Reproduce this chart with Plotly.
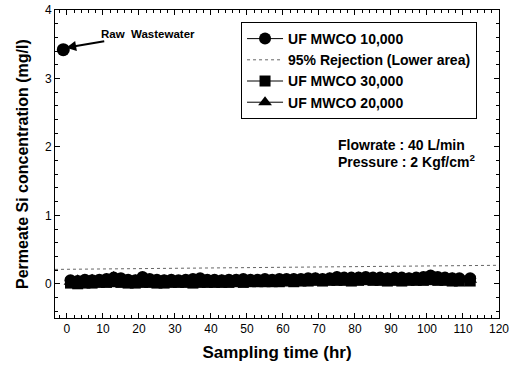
import plotly.graph_objects as go

# Sampling times (hr)
time_hr = [1, 3, 5, 7, 9, 11, 13, 15, 17, 19, 21, 23, 25, 27, 29, 31, 33, 35, 37, 39,
           41, 43, 45, 47, 49, 51, 53, 55, 57, 59, 61, 63, 65, 67, 69, 71, 73, 75, 77, 79,
           81, 83, 85, 87, 89, 91, 93, 95, 97, 99, 101, 103, 105, 107, 109, 112]

mwco_10000 = [0.05, 0.04, 0.06, 0.05, 0.06, 0.07, 0.09, 0.08, 0.06, 0.05, 0.10, 0.07, 0.06, 0.05,
              0.06, 0.05, 0.06, 0.07, 0.08, 0.06, 0.06, 0.05, 0.06, 0.06, 0.07, 0.06, 0.06, 0.07,
              0.06, 0.07, 0.07, 0.07, 0.07, 0.08, 0.08, 0.07, 0.08, 0.10, 0.09, 0.09, 0.09, 0.10,
              0.09, 0.09, 0.08, 0.09, 0.09, 0.08, 0.09, 0.10, 0.12, 0.10, 0.09, 0.08, 0.08, 0.08]

mwco_30000 = [0.01, 0.00, 0.01, 0.01, 0.02, 0.02, 0.03, 0.02, 0.01, 0.01, 0.02, 0.02, 0.01, 0.01,
              0.02, 0.02, 0.02, 0.01, 0.02, 0.02, 0.02, 0.02, 0.02, 0.03, 0.02, 0.03, 0.03, 0.03,
              0.03, 0.03, 0.04, 0.03, 0.04, 0.04, 0.05, 0.04, 0.05, 0.05, 0.05, 0.04, 0.05, 0.06,
              0.05, 0.05, 0.04, 0.05, 0.04, 0.05, 0.05, 0.05, 0.06, 0.05, 0.05, 0.04, 0.04, 0.04]

mwco_20000 = [0.03, 0.05, 0.04, 0.06, 0.05, 0.07, 0.10, 0.06, 0.04, 0.05, 0.07, 0.05, 0.04, 0.05,
              0.06, 0.04, 0.05, 0.05, 0.06, 0.04, 0.04, 0.05, 0.04, 0.06, 0.05, 0.06, 0.05, 0.05,
              0.06, 0.05, 0.06, 0.07, 0.06, 0.06, 0.08, 0.07, 0.08, 0.10, 0.07, 0.07, 0.09, 0.08,
              0.07, 0.07, 0.08, 0.07, 0.07, 0.08, 0.07, 0.08, 0.10, 0.08, 0.07, 0.08, 0.07, 0.06]

rejection_x = [-3.3, 120]
rejection_y = [0.21, 0.27]

raw_x = [-1]
raw_y = [3.42]

x_ticks = [0, 10, 20, 30, 40, 50, 60, 70, 80, 90, 100, 110, 120]
y_ticks = [0, 1, 2, 3, 4]

FONT = "Liberation Sans, Arial, sans-serif"

fig = go.Figure()

fig.add_trace(go.Scatter(x=time_hr, y=mwco_10000, mode="lines+markers", name="UF MWCO 10,000",
                         line=dict(color="black", width=1),
                         marker=dict(symbol="circle", size=12, color="black")))
fig.add_trace(go.Scatter(x=rejection_x, y=rejection_y, mode="lines", name="95% Rejection (Lower area)",
                         line=dict(color="#666666", width=1, dash="dot")))
fig.add_trace(go.Scatter(x=time_hr, y=mwco_30000, mode="lines+markers", name="UF MWCO 30,000",
                         line=dict(color="black", width=1),
                         marker=dict(symbol="square", size=11, color="black")))
fig.add_trace(go.Scatter(x=time_hr, y=mwco_20000, mode="lines+markers", name="UF MWCO 20,000",
                         line=dict(color="black", width=1),
                         marker=dict(symbol="triangle-up", size=12, color="black")))
fig.add_trace(go.Scatter(x=raw_x, y=raw_y, mode="markers", showlegend=False,
                         marker=dict(symbol="circle", size=13, color="black")))

# Label with arrow pointing at the raw wastewater point
fig.add_annotation(x=-0.2, y=3.45, ax=82, ay=-14, xref="x", yref="y",
                   text="<b>Raw  Wastewater</b>", showarrow=True,
                   arrowhead=2, arrowsize=1, arrowwidth=2, arrowcolor="black",
                   font=dict(family=FONT, size=11.5, color="black"))
fig.add_annotation(x=74.6, y=2.03, xref="x", yref="y", text="<b>Flowrate : 40 L/min</b>",
                   showarrow=False, xanchor="left", yanchor="middle",
                   font=dict(family=FONT, size=14, color="black"))
fig.add_annotation(x=74.6, y=1.79, xref="x", yref="y", text="<b>Pressure : 2 Kgf/cm<sup>2</sup></b>",
                   showarrow=False, xanchor="left", yanchor="middle",
                   font=dict(family=FONT, size=14, color="black"))
# Y-axis title placed as rotated text
fig.add_annotation(x=0, y=0.5, xref="paper", yref="paper", xshift=-33,
                   text="<b>Permeate Si concentration (mg/l)</b>", textangle=-90,
                   showarrow=False, xanchor="center", yanchor="middle",
                   font=dict(family=FONT, size=16, color="black"))

axis_common = dict(showline=True, linecolor="black", linewidth=1, mirror="ticks",
                   ticks="inside", ticklen=5, tickcolor="black", showgrid=False, zeroline=False,
                   automargin=False,
                   tickfont=dict(family=FONT, size=12, color="black"))

fig.update_xaxes(range=[-3.3, 120], tickvals=x_ticks,
                 minor=dict(dtick=2, ticks="inside", ticklen=3, tickcolor="black"),
                 title=dict(text="<b>Sampling time (hr)</b>", font=dict(family=FONT, size=17, color="black"),
                            standoff=10),
                 **axis_common)
fig.update_yaxes(range=[-0.5, 4], tickvals=y_ticks,
                 minor=dict(dtick=0.2, ticks="inside", ticklen=3, tickcolor="black"),
                 **axis_common)

fig.update_layout(
    width=525, height=369,
    margin=dict(l=55, r=26, t=10, b=51),
    paper_bgcolor="white", plot_bgcolor="white",
    font=dict(family=FONT, color="black"),
    legend=dict(x=0.419, y=0.961, xanchor="left", yanchor="top",
                bordercolor="black", borderwidth=1, bgcolor="white",
                font=dict(family=FONT, size=14, color="black", weight="bold"),
                tracegroupgap=0, itemwidth=36),
)

fig.write_html("out.html")
